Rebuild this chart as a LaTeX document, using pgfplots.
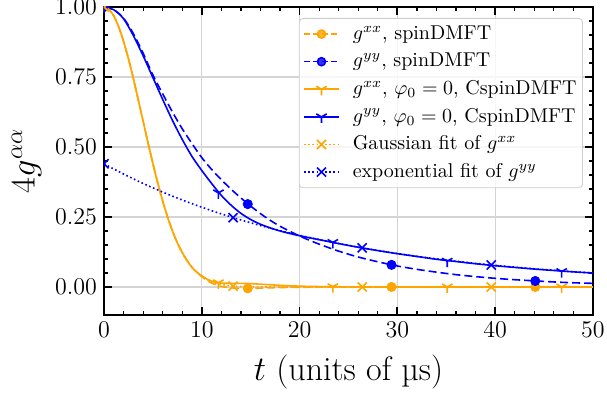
\documentclass[border=0pt]{standalone}
\usepackage{pgfplots}
\pgfplotsset{compat=1.18}
\definecolor{mplorange}{RGB}{255,165,0}
\definecolor{mplblue}{RGB}{0,0,255}
\begin{document}
\begin{tikzpicture}
\begin{axis}[
  scale only axis, width=244.5pt, height=154pt,
  xmin=0, xmax=50, ymin=-0.1, ymax=1.0,
  xtick={0,10,20,30,40,50},
  ytick={0,0.25,0.5,0.75,1},
  minor x tick num=4, minor y tick num=4,
  yticklabel style={/pgf/number format/.cd, fixed, fixed zerofill, precision=2},
  tick align=inside,
  major tick length=4pt, minor tick length=2pt,
  every major tick/.append style={line width=0.9pt, black},
  every minor tick/.append style={line width=0.6pt, black},
  axis line style={line width=1pt},
  grid=major,
  major grid style={line width=0.6pt, color=black!17},
  ticklabel style={font=\fontsize{12}{14}\selectfont},
  xlabel={$t$ (units of µs)},
  ylabel={$4g^{\alpha\alpha}$},
  label style={font=\fontsize{17}{20}\selectfont},
  xlabel style={yshift=-2pt},
  clip marker paths=true,
  legend cell align=left,
  legend image code/.code={\draw[mark repeat=2,mark phase=2,#1] plot coordinates {(0pt,0pt) (8.75pt,0pt) (17.5pt,0pt)}; \path (23pt,0pt);},
  legend style={at={(1,1)}, anchor=north east, xshift=-5pt, yshift=-5.5pt,
    font=\fontsize{10}{12}\selectfont, draw=black!20, rounded corners=2pt,
    fill=white, fill opacity=0.8, text opacity=1, row sep=2.1pt, inner sep=2pt,
    nodes={inner sep=1pt, text height=0.75em, text depth=0.22em}},
]
\coordinate (SW) at (rel axis cs:0,0);
\coordinate (NE) at (rel axis cs:1,1);

\addlegendimage{mplorange, line width=0.8pt, dash pattern=on 3pt off 1.5pt, mark=*, mark size=2pt, mark options={solid}}
\addlegendentry{$g^{xx}$, spinDMFT}
\addlegendimage{mplblue, line width=0.8pt, dash pattern=on 3pt off 1.5pt, mark=*, mark size=2pt, mark options={solid}}
\addlegendentry{$g^{yy}$, spinDMFT}
\addlegendimage{mplorange, line width=0.8pt, mark=Mercedes star flipped, mark size=3pt}
\addlegendentry{$g^{xx}$, $\varphi_0=0$, CspinDMFT}
\addlegendimage{mplblue, line width=0.8pt, mark=Mercedes star flipped, mark size=3pt}
\addlegendentry{$g^{yy}$, $\varphi_0=0$, CspinDMFT}
\addlegendimage{mplorange, line width=0.8pt, dash pattern=on 0.8pt off 1.3pt, mark=x, mark size=3.2pt, mark options={solid}}
\addlegendentry{Gaussian fit of $g^{xx}$}
\addlegendimage{mplblue, line width=0.8pt, dash pattern=on 0.8pt off 1.3pt, mark=x, mark size=3.2pt, mark options={solid}}
\addlegendentry{exponential fit of $g^{yy}$}

% spinDMFT g^xx
\addplot[forget plot, mplorange, line width=0.8pt, dash pattern=on 4pt off 2pt, smooth] coordinates {
(0,1)(0.5,0.992)(1,0.968)(1.5,0.929)(2,0.877)(2.5,0.815)(3,0.745)(3.5,0.669)(4,0.592)(4.5,0.515)
(5,0.441)(5.5,0.371)(6,0.307)(6.5,0.250)(7,0.200)(7.5,0.158)(8,0.123)(8.5,0.094)(9,0.070)(9.5,0.052)
(10,0.037)(10.5,0.024)(11,0.014)(11.5,0.007)(12,0.002)(13,-0.003)(14,-0.005)(15,-0.005)(16,-0.004)
(18,-0.002)(20,-0.001)(24,0)(30,0)(40,0)(50,0)};
\addplot[forget plot, only marks, mplorange, mark=*, mark size=2.3pt] coordinates {
(0,1)(14.7,-0.005)(29.4,0)(44.1,0)};

% spinDMFT g^yy
\addplot[forget plot, mplblue, line width=0.8pt, dash pattern=on 4pt off 2pt, smooth] coordinates {
(0,1.000)(1,0.990)(2,0.960)(3,0.905)(4,0.835)(5,0.757)(6,0.690)(7,0.625)(8,0.565)(9,0.512)
(10,0.462)(11,0.420)(12,0.383)(13,0.349)(14,0.318)(15,0.289)(16,0.262)(17,0.238)(18,0.217)(19,0.199)
(20,0.182)(21,0.167)(22,0.153)(24,0.128)(26,0.107)(28,0.090)(30,0.075)(32,0.063)(34,0.053)(36,0.044)
(38,0.037)(40,0.031)(42,0.026)(44,0.022)(46,0.018)(48,0.015)(50,0.013)};
\addplot[forget plot, only marks, mplblue, mark=*, mark size=2.3pt] coordinates {
(0,1)(14.7,0.296)(29.4,0.079)(44.1,0.0215)};

% CspinDMFT g^xx
\addplot[forget plot, mplorange, line width=0.8pt, smooth] coordinates {
(0,1)(0.5,0.992)(1,0.968)(1.5,0.929)(2,0.877)(2.5,0.815)(3,0.745)(3.5,0.669)(4,0.592)(4.5,0.515)
(5,0.441)(5.5,0.371)(6,0.307)(6.5,0.250)(7,0.200)(7.5,0.158)(8,0.123)(8.5,0.094)(9,0.070)(9.5,0.053)
(10,0.040)(10.5,0.029)(11,0.021)(11.5,0.016)(12,0.014)(13,0.013)(14,0.013)(15,0.012)(16,0.010)
(17,0.008)(18,0.006)(20,0.003)(22,0.0015)(25,0.0005)(30,0)(40,0)(50,0)};
\addplot[forget plot, only marks, mplorange, mark=Mercedes star flipped, mark size=3pt, line width=0.8pt] coordinates {
(0,1)(11.7,0.015)(23.4,0.001)(35.1,0)(46.8,0)};

% CspinDMFT g^yy
\addplot[forget plot, mplblue, line width=0.8pt, smooth] coordinates {
(0,1.000)(1,0.990)(2,0.958)(3,0.898)(4,0.826)(5,0.748)(6,0.670)(7,0.595)(8,0.527)(9,0.466)
(10,0.416)(11,0.370)(12,0.327)(13,0.292)(14,0.263)(15,0.241)(16,0.224)(17,0.211)(18,0.200)(19,0.191)
(20,0.183)(22,0.169)(24,0.155)(26,0.142)(28,0.130)(30,0.119)(32,0.109)(34,0.099)(36,0.091)(38,0.083)
(40,0.076)(42,0.070)(44,0.064)(46,0.059)(48,0.054)(50,0.050)};
\addplot[forget plot, only marks, mplblue, mark=Mercedes star flipped, mark size=3pt, line width=0.8pt] coordinates {
(0,1)(11.7,0.336)(23.4,0.159)(35.1,0.092)(46.8,0.055)};

% Gaussian fit of g^xx
\addplot[forget plot, mplorange, line width=0.8pt, dash pattern=on 0.8pt off 1.3pt, smooth] coordinates {
(0,1)(0.5,0.992)(1,0.968)(1.5,0.929)(2,0.877)(2.5,0.815)(3,0.745)(3.5,0.669)(4,0.592)(4.5,0.515)
(5,0.441)(5.5,0.371)(6,0.307)(6.5,0.250)(7,0.200)(7.5,0.158)(8,0.123)(8.5,0.094)(9,0.070)(9.5,0.052)
(10,0.038)(10.5,0.027)(11,0.019)(11.5,0.013)(12,0.009)(13,0.004)(14,0.0016)(15,0.0006)(16,0.0002)
(18,0)(30,0)(40,0)(50,0)};
\addplot[forget plot, only marks, mplorange, mark=x, mark size=3.2pt, line width=0.8pt] coordinates {
(0,1)(13.2,0.003)(26.4,0)(39.6,0)};

% exponential fit of g^yy
\addplot[forget plot, mplblue, line width=0.8pt, dash pattern=on 0.8pt off 1.3pt, smooth] coordinates {
(0,0.440)(2,0.4034)(4,0.3698)(6,0.3390)(8,0.3107)(10,0.2849)(12,0.2611)(14,0.2394)(16,0.2195)(18,0.2012)
(20,0.1844)(22,0.1691)(24,0.1550)(26,0.1421)(28,0.1302)(30,0.1194)(32,0.1095)(34,0.1003)(36,0.0920)
(38,0.0843)(40,0.0773)(42,0.0709)(44,0.0650)(46,0.0596)(48,0.0546)(50,0.0500)};
\addplot[forget plot, only marks, mplblue, mark=x, mark size=3.2pt, line width=0.8pt] coordinates {
(0,0.440)(13.2,0.2476)(26.4,0.1398)(39.6,0.0785)};
\end{axis}
\pgfresetboundingbox
\path ([shift={(-52pt,-42.5pt)}]SW) rectangle ([shift={(7pt,3.5pt)}]NE);
\end{tikzpicture}
\end{document}
